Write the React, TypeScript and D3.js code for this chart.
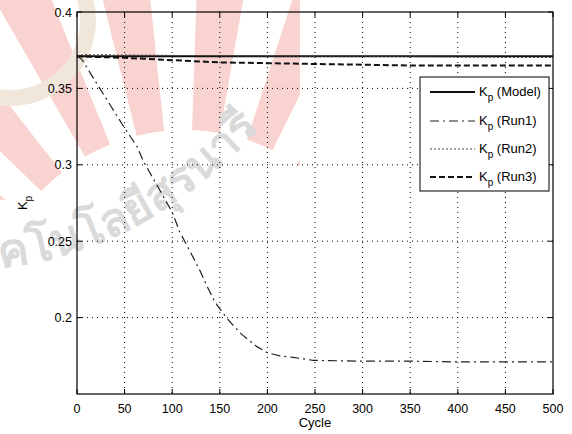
import React from "react";
import * as d3 from "d3";

const xTicks = [0, 50, 100, 150, 200, 250, 300, 350, 400, 450, 500];
const yTicks = [0.2, 0.25, 0.3, 0.35, 0.4];

const modelCycles = [0, 500];
const modelValues = [0.371, 0.371];

const run1Cycles = [0, 5, 14, 21, 31, 47, 63, 70, 91, 100, 108, 119, 129, 137, 145, 152, 161, 173, 189, 200, 213, 227, 248, 300, 350, 400, 450, 500];
const run1Values = [0.371, 0.369, 0.36, 0.353, 0.343, 0.327, 0.312, 0.302, 0.279, 0.269, 0.256, 0.243, 0.231, 0.22, 0.21, 0.204, 0.197, 0.189, 0.181, 0.177, 0.175, 0.174, 0.172, 0.1715, 0.1715, 0.171, 0.171, 0.171];

const run2Cycles = [0, 10, 20, 30, 40, 50, 100, 150, 200, 250, 300, 350, 400, 450, 500];
const run2Values = [0.3715, 0.3722, 0.3719, 0.3722, 0.3718, 0.3719, 0.3716, 0.3713, 0.3712, 0.371, 0.371, 0.3708, 0.3705, 0.3703, 0.3702];

const run3Cycles = [0, 50, 100, 150, 200, 250, 300, 350, 400, 450, 500];
const run3Values = [0.371, 0.37, 0.3685, 0.367, 0.3665, 0.366, 0.3655, 0.365, 0.365, 0.365, 0.365];

const legendLabels = ["(Model)", "(Run1)", "(Run2)", "(Run3)"];
const watermarkText = "คโนโลยีสุรนารี";

const W = 572, H = 434;
const L = 77, R = 553, T = 12, B = 394;

export default function App() {
  const x = d3.scaleLinear().domain([0, 500]).range([L, R]);
  const y = d3.scaleLinear().domain([0.15, 0.4]).range([B, T]);
  const mk = (cs: number[], vs: number[]) =>
    d3.line<number>().x((_, i) => x(cs[i])).y((v) => y(v))(vs) || "";

  const series = [
    { d: mk(modelCycles, modelValues), w: 2, dash: "none", color: "#111" },
    { d: mk(run1Cycles, run1Values), w: 1.2, dash: "9,4,2,4", color: "#222" },
    { d: mk(run2Cycles, run2Values), w: 1, dash: "2,2", color: "#444" },
    { d: mk(run3Cycles, run3Values), w: 2, dash: "6,3", color: "#111" },
  ];

  const font = "'Liberation Sans', Arial, sans-serif";
  const legX0 = 420, legX1 = 549, legY0 = 77, legY1 = 191;
  const legRows = [92, 121, 149, 177];

  // decorative sunburst watermark (scan artefact)
  const cx = 185, cy = 330;
  const rays = d3.range(-168, -40, 16).map((a) => {
    const arc = d3.arc()({
      innerRadius: 200,
      outerRadius: 380,
      startAngle: ((a + 90) * Math.PI) / 180,
      endAngle: ((a + 90 + 8) * Math.PI) / 180,
    } as any);
    return arc || "";
  });

  return (
    <svg width={W} height={H} style={{ position: "absolute", left: 0, top: 0, background: "#fff" }} fontFamily={font}>
      <defs>
        <path id="wmPath" d="M 0,268 Q 170,250 300,80" />
        <clipPath id="top"><rect x={0} y={0} width={300} height={200} /></clipPath>
      </defs>
      <rect x={0} y={0} width={W} height={H} fill="#fff" />
      <g clipPath="url(#top)">
        <g transform={`translate(${cx},${cy})`} opacity={0.3}>
          {rays.map((d, i) => (
            <path key={i} d={d} fill="#ee6f66" />
          ))}
        </g>
        <circle cx={10} cy={20} r={78} fill="none" stroke="#f0e6d9" strokeWidth={16} />
      </g>
      <text fontSize={46} fontWeight="bold" fill="#dadada" fontFamily="'Noto Sans', 'DejaVu Sans', sans-serif">
        <textPath href="#wmPath">{watermarkText}</textPath>
      </text>

      {/* grid */}
      {xTicks.slice(1, -1).map((t) => (
        <line key={"gx" + t} x1={x(t)} x2={x(t)} y1={T} y2={B} stroke="#000" strokeWidth={1} strokeDasharray="1,4" />
      ))}
      {yTicks.slice(0, -1).map((t) => (
        <line key={"gy" + t} x1={L} x2={R} y1={y(t)} y2={y(t)} stroke="#000" strokeWidth={1} strokeDasharray="1,4" />
      ))}

      {/* ticks */}
      {xTicks.map((t) => (
        <g key={"tx" + t}>
          <line x1={x(t)} x2={x(t)} y1={B} y2={B - 5} stroke="#000" />
          <line x1={x(t)} x2={x(t)} y1={T} y2={T + 5} stroke="#000" />
          <text x={x(t)} y={B + 19} fontSize={12.5} textAnchor="middle" fill="#000">{t}</text>
        </g>
      ))}
      {yTicks.map((t) => (
        <g key={"ty" + t}>
          <line x1={L} x2={L + 5} y1={y(t)} y2={y(t)} stroke="#000" />
          <line x1={R} x2={R - 5} y1={y(t)} y2={y(t)} stroke="#000" />
          <text x={L - 5} y={y(t) + 4.5} fontSize={12.5} textAnchor="end" fill="#000">{String(t)}</text>
        </g>
      ))}

      {/* series */}
      {series.map((s, i) => (
        <path key={"s" + i} d={s.d} fill="none" stroke={s.color} strokeWidth={s.w} strokeDasharray={s.dash} />
      ))}

      {/* axes box */}
      <rect x={L} y={T} width={R - L} height={B - T} fill="none" stroke="#000" strokeWidth={1.2} />

      {/* legend */}
      <rect x={legX0} y={legY0} width={legX1 - legX0} height={legY1 - legY0} fill="#fff" stroke="#000" strokeWidth={1} />
      {series.map((s, i) => (
        <g key={"lg" + i}>
          <line x1={430} x2={475} y1={legRows[i]} y2={legRows[i]} stroke={s.color} strokeWidth={s.w} strokeDasharray={s.dash} />
          <text x={479} y={legRows[i] + 4} fontSize={13} fill="#000">
            K<tspan fontSize={10} dy={5}>p</tspan><tspan dy={-5}> {legendLabels[i]}</tspan>
          </text>
        </g>
      ))}

      {/* axis labels */}
      <text x={315} y={427} fontSize={13} textAnchor="middle" fill="#000">Cycle</text>
      <text transform={`translate(27, ${(T + B) / 2}) rotate(-90)`} fontSize={13} textAnchor="middle" fill="#000">
        K<tspan fontSize={10} dy={5}>p</tspan>
      </text>
    </svg>
  );
}
